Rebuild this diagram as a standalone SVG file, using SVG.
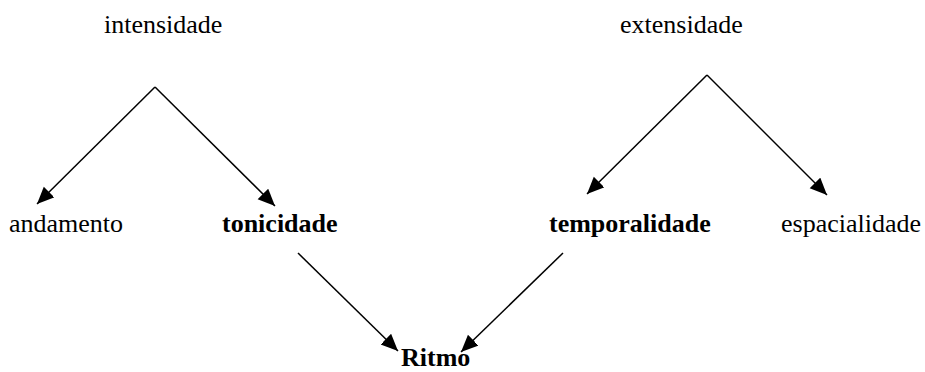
<svg xmlns="http://www.w3.org/2000/svg" width="925" height="372" viewBox="0 0 925 372">
  <style>
    text { font-family: "Liberation Serif", "Times New Roman", serif; font-size: 26px; fill: #000; }
    .b { font-weight: bold; }
    .edge { stroke: #000; stroke-width: 1.5; fill: none; marker-end: url(#arrow); }
  </style>
  <defs>
    <marker id="arrow" markerUnits="userSpaceOnUse" markerWidth="18" markerHeight="16" refX="17" refY="7.5" orient="auto">
      <path d="M0,0 L17,7.5 L0,15 z" fill="#000"/>
    </marker>
  </defs>
  <rect width="925" height="372" fill="#fff"/>

  <g id="intensidade"><text x="104" y="33">intensidade</text></g>
  <g id="extensidade"><text x="620" y="33">extensidade</text></g>
  <g id="andamento"><text x="9" y="232">andamento</text></g>
  <g id="tonicidade"><text class="b" x="222" y="232">tonicidade</text></g>
  <g id="temporalidade"><text class="b" x="549" y="232">temporalidade</text></g>
  <g id="espacialidade"><text x="781" y="232">espacialidade</text></g>
  <g id="ritmo"><text class="b" x="401" y="366">Ritmo</text></g>

  <g id="connectors">
    <path class="edge" d="M155,87 L37,204"/>
    <path class="edge" d="M155,87 L275,206"/>
    <path class="edge" d="M707,75 L587,194"/>
    <path class="edge" d="M707,75 L827,195"/>
    <path class="edge" d="M298,253 L398,351"/>
    <path class="edge" d="M563,253 L461,352"/>
  </g>
</svg>
